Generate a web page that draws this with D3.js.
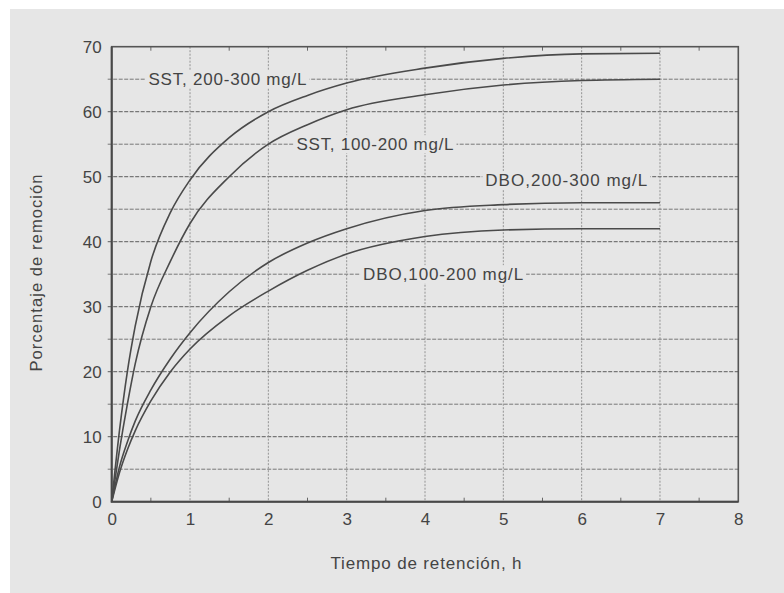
<!DOCTYPE html>
<html>
<head>
<meta charset="utf-8">
<script src="https://cdn.jsdelivr.net/npm/d3@7"></script>
<style>
  html, body { margin: 0; padding: 0; background: #fff; }
  svg { display: block; }
  text { font-family: "Liberation Sans", Arial, sans-serif; fill: #444; }
</style>
</head>
<body>
<div id="chart"></div>
<script>
// Tiempo de retención (h) y porcentaje de remoción
const tiempo = [0, 0.1, 0.2, 0.3, 0.5, 0.75, 1, 1.5, 2, 2.5, 3, 4, 5, 6, 7]
const sst200 = [0, 11, 20, 27, 37, 44.5, 49.5, 56, 60, 62.5, 64.4, 66.7, 68.2, 68.9, 69]
const sst100 = [0, 8, 15, 21.2, 30, 37, 42.8, 50, 55, 58, 60.3, 62.6, 64.1, 64.8, 65]
const dbo200 = [0, 5.4, 9.2, 12.4, 17.2, 22, 26, 32.3, 36.8, 39.8, 42, 44.8, 45.7, 46, 46]
const dbo100 = [0, 4.5, 8, 10.9, 15.5, 20, 23.5, 28.6, 32.4, 35.6, 38.1, 40.8, 41.8, 42, 42]

const xTicks = [0, 1, 2, 3, 4, 5, 6, 7, 8]
const yTicks = [0, 10, 20, 30, 40, 50, 60, 70]

const series = [sst200, sst100, dbo200, dbo100]
const etiquetas = ['SST, 200-300 mg/L', 'SST, 100-200 mg/L', 'DBO,200-300 mg/L', 'DBO,100-200 mg/L']
// donde arranca cada rótulo (unidades del gráfico) y su ancho en px
const rotulos = [
    { x: 0.47, y: 65, w: 158 },
    { x: 2.36, y: 55, w: 157 },
    { x: 4.77, y: 49.5, w: 162 },
    { x: 3.21, y: 35, w: 160 }
]

const W = 784, H = 593
const page = '#e6e6e6'

let svg = d3.select('#chart')
    .append('svg')
    .attr('width', W)
    .attr('height', H)

// fondo gris del escaneo
svg.append('rect')
    .attr('x', 10).attr('y', 9)
    .attr('width', W - 10).attr('height', H - 9)
    .attr('fill', page)

let x = d3.scaleLinear().domain([0, 8]).range([111.7, 738.3])
let y = d3.scaleLinear().domain([0, 70]).range([501.7, 46.7])

// rejilla horizontal cada 5 %
svg.append('g')
    .selectAll('line')
    .data(d3.range(5, 70, 5))
    .enter()
    .append('line')
    .attr('x1', x(0) - 4)
    .attr('x2', x(8) + 1)
    .attr('y1', d => y(d))
    .attr('y2', d => y(d))
    .attr('stroke', '#777')
    .attr('stroke-width', d => d % 10 ? 1 : 1.2)
    .attr('stroke-dasharray', '4,1.5')

// rejilla vertical cada hora
svg.append('g')
    .selectAll('line')
    .data(d3.range(1, 8))
    .enter()
    .append('line')
    .attr('x1', d => x(d))
    .attr('x2', d => x(d))
    .attr('y1', y(70))
    .attr('y2', y(0))
    .attr('stroke', '#8a8a8a')
    .attr('stroke-width', 0.9)
    .attr('stroke-dasharray', '2,1.5')

// marcas menores arriba y abajo
let minor = d3.range(0.5, 8, 1)
svg.append('g')
    .selectAll('line')
    .data(minor)
    .enter()
    .append('line')
    .attr('x1', d => x(d)).attr('x2', d => x(d))
    .attr('y1', y(0)).attr('y2', y(0) - 4)
    .attr('stroke', '#666').attr('stroke-width', 1)
svg.append('g')
    .selectAll('line')
    .data(minor)
    .enter()
    .append('line')
    .attr('x1', d => x(d)).attr('x2', d => x(d))
    .attr('y1', y(70)).attr('y2', y(70) + 4)
    .attr('stroke', '#666').attr('stroke-width', 1)

// marco
svg.append('rect')
    .attr('x', x(0)).attr('y', y(70))
    .attr('width', x(8) - x(0)).attr('height', y(0) - y(70))
    .attr('fill', 'none')
    .attr('stroke', '#555')
    .attr('stroke-width', 1.6)
svg.append('path')
    .attr('d', `M${x(0)},${y(70)}V${y(0)}H${x(8)}`)
    .attr('fill', 'none')
    .attr('stroke', '#484848')
    .attr('stroke-width', 2)

// ejes con etiquetas
let xAxis = d3.axisBottom(x).tickValues(xTicks).tickSize(0).tickPadding(11)
let yAxis = d3.axisLeft(y).tickValues(yTicks).tickSize(0).tickPadding(10)

svg.append('g')
    .attr('transform', `translate(0,${y(0)})`)
    .call(xAxis)
    .call(g => g.select('.domain').remove())
    .selectAll('text')
    .attr('font-size', 17)
    .attr('font-family', '"Liberation Sans", Arial, sans-serif')
    .attr('fill', '#464646')

svg.append('g')
    .attr('transform', `translate(${x(0)},0)`)
    .call(yAxis)
    .call(g => g.select('.domain').remove())
    .selectAll('text')
    .attr('font-size', 17)
    .attr('font-family', '"Liberation Sans", Arial, sans-serif')
    .attr('fill', '#464646')

// curvas
let line = d3.line()
    .x((d, i) => x(tiempo[i]))
    .y(d => y(d))
    .curve(d3.curveMonotoneX)

svg.append('g')
    .selectAll('path')
    .data(series)
    .enter()
    .append('path')
    .attr('d', line)
    .attr('fill', 'none')
    .attr('stroke', '#4a4a4a')
    .attr('stroke-width', 1.6)

// rótulos de las curvas (tapan la rejilla)
let labels = svg.append('g')
    .selectAll('g')
    .data(etiquetas)
    .enter()
    .append('g')

labels.append('rect')
    .attr('x', (d, i) => x(rotulos[i].x) - 3)
    .attr('y', (d, i) => y(rotulos[i].y) - 9)
    .attr('width', (d, i) => rotulos[i].w + 6)
    .attr('height', 18)
    .attr('fill', page)

labels.append('text')
    .text(d => d)
    .attr('x', (d, i) => x(rotulos[i].x))
    .attr('y', (d, i) => y(rotulos[i].y))
    .attr('dy', '0.35em')
    .attr('font-size', 17)
    .attr('textLength', (d, i) => rotulos[i].w)
    .attr('lengthAdjust', 'spacing')

// títulos de ejes
svg.append('text')
    .text('Tiempo de retención, h')
    .attr('x', 426)
    .attr('y', 563)
    .attr('dy', '0.35em')
    .attr('text-anchor', 'middle')
    .attr('font-size', 17)
    .attr('textLength', 191)
    .attr('lengthAdjust', 'spacing')

svg.append('text')
    .text('Porcentaje de remoción')
    .attr('transform', 'translate(36.5,273) rotate(-90)')
    .attr('dy', '0.35em')
    .attr('text-anchor', 'middle')
    .attr('font-size', 16.5)
    .attr('textLength', 197)
    .attr('lengthAdjust', 'spacing')
</script>
</body>
</html>
